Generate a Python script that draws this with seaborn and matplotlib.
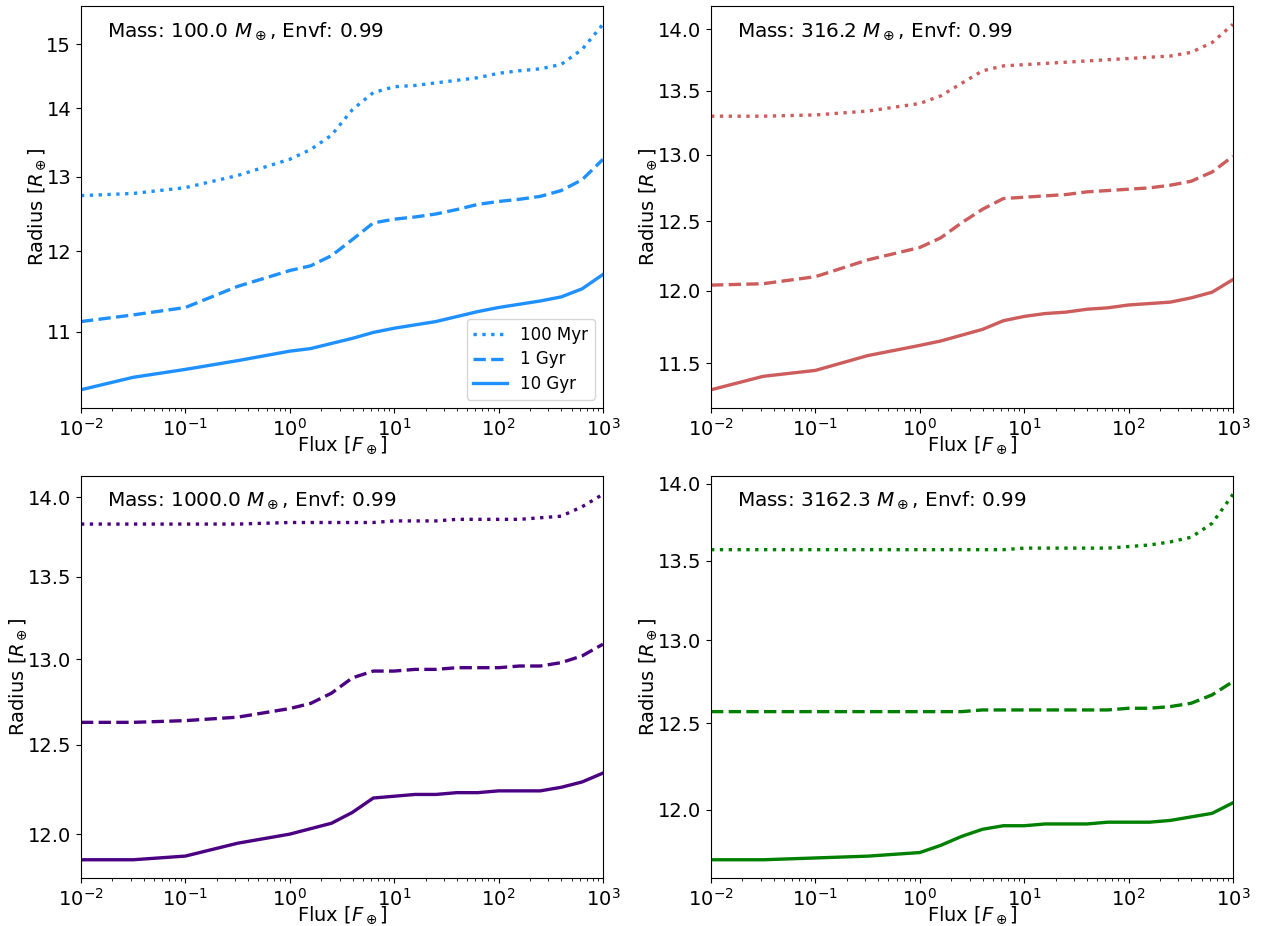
import matplotlib
matplotlib.use("Agg")
import matplotlib.pyplot as plt
import matplotlib.ticker as mticker
import seaborn as sns
import pandas as pd

# Incident flux grid [F_earth]
flux = [0.01, 0.0316, 0.1, 0.316, 1.0, 1.585, 2.512, 3.981, 6.31, 10.0,
        15.85, 25.12, 39.81, 63.1, 100.0, 158.5, 251.2, 398.1, 631.0, 1000.0]

ages = ["100 Myr", "1 Gyr", "10 Gyr"]
masses = [100.0, 316.2, 1000.0, 3162.3]
envf = 0.99

# Planet radius [R_earth] for each mass, one list per age
r100_100myr = [12.74, 12.77, 12.85, 13.02, 13.25, 13.39, 13.60, 13.98, 14.24, 14.33,
               14.35, 14.39, 14.43, 14.47, 14.54, 14.58, 14.61, 14.68, 14.92, 15.33]
r100_1gyr = [11.12, 11.20, 11.29, 11.55, 11.75, 11.81, 11.94, 12.15, 12.37, 12.42,
             12.45, 12.49, 12.55, 12.62, 12.66, 12.69, 12.73, 12.81, 12.96, 13.25]
r100_10gyr = [10.33, 10.47, 10.56, 10.66, 10.77, 10.80, 10.86, 10.92, 10.99, 11.04,
              11.08, 11.12, 11.18, 11.24, 11.29, 11.33, 11.37, 11.42, 11.52, 11.70]

r316_100myr = [13.30, 13.30, 13.31, 13.34, 13.40, 13.46, 13.56, 13.66, 13.70, 13.71,
               13.72, 13.73, 13.74, 13.75, 13.76, 13.77, 13.78, 13.81, 13.89, 14.04]
r316_1gyr = [12.04, 12.05, 12.10, 12.22, 12.31, 12.38, 12.49, 12.59, 12.67, 12.68,
             12.69, 12.70, 12.72, 12.73, 12.74, 12.75, 12.77, 12.80, 12.87, 12.99]
r316_10gyr = [11.32, 11.41, 11.45, 11.55, 11.62, 11.65, 11.69, 11.73, 11.79, 11.82,
              11.84, 11.85, 11.87, 11.88, 11.90, 11.91, 11.92, 11.95, 11.99, 12.08]

r1000_100myr = [13.83, 13.83, 13.83, 13.83, 13.84, 13.84, 13.84, 13.84, 13.84, 13.85,
                13.85, 13.85, 13.86, 13.86, 13.86, 13.86, 13.87, 13.88, 13.94, 14.02]
r1000_1gyr = [12.63, 12.63, 12.64, 12.66, 12.71, 12.74, 12.80, 12.89, 12.93, 12.93,
              12.94, 12.94, 12.95, 12.95, 12.95, 12.96, 12.96, 12.98, 13.02, 13.09]
r1000_10gyr = [11.86, 11.86, 11.88, 11.95, 12.00, 12.03, 12.06, 12.12, 12.20, 12.21,
               12.22, 12.22, 12.23, 12.23, 12.24, 12.24, 12.24, 12.26, 12.29, 12.34]

r3162_100myr = [13.57, 13.57, 13.57, 13.57, 13.57, 13.57, 13.57, 13.57, 13.57, 13.58,
                13.58, 13.58, 13.58, 13.58, 13.59, 13.60, 13.62, 13.65, 13.74, 13.93]
r3162_1gyr = [12.57, 12.57, 12.57, 12.57, 12.57, 12.57, 12.57, 12.58, 12.58, 12.58,
              12.58, 12.58, 12.58, 12.58, 12.59, 12.59, 12.60, 12.62, 12.67, 12.75]
r3162_10gyr = [11.72, 11.72, 11.73, 11.74, 11.76, 11.80, 11.85, 11.89, 11.91, 11.91,
               11.92, 11.92, 11.92, 11.93, 11.93, 11.93, 11.94, 11.96, 11.98, 12.04]

radii = [
    [r100_100myr, r100_1gyr, r100_10gyr],
    [r316_100myr, r316_1gyr, r316_10gyr],
    [r1000_100myr, r1000_1gyr, r1000_10gyr],
    [r3162_100myr, r3162_1gyr, r3162_10gyr],
]

colors = ["dodgerblue", "indianred", "indigo", "green"]
linestyles = [":", "--", "-"]
yticks = [
    [11, 12, 13, 14, 15],
    [11.5, 12.0, 12.5, 13.0, 13.5, 14.0],
    [12.0, 12.5, 13.0, 13.5, 14.0],
    [12.0, 12.5, 13.0, 13.5, 14.0],
]
yfmt = ["%d", "%.1f", "%.1f", "%.1f"]

fig, axes = plt.subplots(2, 2, figsize=(12.61, 9.26), dpi=100)
fig.subplots_adjust(left=0.0642, right=0.9778, bottom=0.0518, top=0.9935,
                    wspace=0.207, hspace=0.169)

for i, ax in enumerate(axes.flat):
    ax.set_xscale("log")
    ax.set_yscale("log")
    for j, age in enumerate(ages):
        df = pd.DataFrame({"flux": flux, "radius": radii[i][j]})
        sns.lineplot(data=df, x="flux", y="radius", ax=ax, color=colors[i],
                     linestyle=linestyles[j], linewidth=2.4,
                     label=age if i == 0 else None, legend=False)
    ax.set_xlim(1e-2, 1e3)
    ax.yaxis.set_major_locator(mticker.FixedLocator(yticks[i]))
    ax.yaxis.set_minor_locator(mticker.NullLocator())
    ax.yaxis.set_major_formatter(mticker.FormatStrFormatter(yfmt[i]))
    ax.tick_params(axis="both", which="major", labelsize=14)
    ax.set_xlabel(r"Flux [$F_\oplus$]", fontsize=14, labelpad=-4)
    ax.set_ylabel(r"Radius [$R_\oplus$]", fontsize=14, labelpad=-1)
    ax.text(0.05, 0.925, r"Mass: %.1f $M_\oplus$, Envf: %.2f" % (masses[i], envf),
            transform=ax.transAxes, fontsize=14.4, va="baseline", ha="left")
    if i == 0:
        ax.legend(loc="lower right", fontsize=12, labelspacing=0.4)

fig.savefig("out.png", dpi=100)
